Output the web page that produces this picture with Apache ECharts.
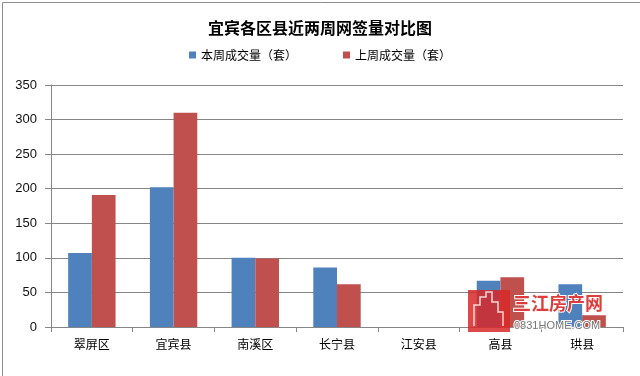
<!DOCTYPE html>
<html><head><meta charset="utf-8">
<script src="https://cdn.jsdelivr.net/npm/echarts@6/dist/echarts.min.js"></script>
<style>html,body{margin:0;padding:0;background:#fff}#c{width:640px;height:376px}</style>
</head><body><div id="c"></div>
<script>
var categories = ['翠屏区','宜宾县','南溪区','长宁县','江安县','高县','珙县'];
var thisWeek = [107, 202, 100, 86, 0, 67, 62];
var lastWeek = [191, 310, 99, 62, 0, 72, 17];
var seriesNames = ['本周成交量（套）','上周成交量（套）'];
var yTicks = [0, 50, 100, 150, 200, 250, 300, 350];

var chart = echarts.init(document.getElementById('c'));
var cjk = '"Noto Sans CJK SC", sans-serif';
chart.setOption({
  backgroundColor: '#fff',
  animation: false,
  title: {
    text: '宜宾各区县近两周网签量对比图', left: 'center', top: 15,
    textStyle: {fontFamily: cjk, fontSize: 16, fontWeight: 'bold', color: '#000'}
  },
  legend: {
    top: 44, left: 'center', itemWidth: 7, itemHeight: 7, itemGap: 46,
    icon: 'rect',
    textStyle: {fontFamily: cjk, fontSize: 12, color: '#000'},
    data: seriesNames
  },
  grid: {left: 51, right: 17, top: 85, bottom: 49},
  xAxis: {
    type: 'category', data: categories,
    axisLine: {lineStyle: {color: '#868686'}},
    axisTick: {show: true, length: 5, lineStyle: {color: '#868686'}},
    axisLabel: {fontFamily: cjk, fontSize: 12, color: '#000', margin: 11}
  },
  yAxis: {
    type: 'value', min: 0, max: 350, interval: 50,
    axisLine: {show: true, lineStyle: {color: '#868686'}},
    axisTick: {show: true, inside: false, length: 6, lineStyle: {color: '#868686'}},
    splitLine: {lineStyle: {color: '#868686'}},
    axisLabel: {fontFamily: '"Liberation Sans", sans-serif', fontSize: 13, color: '#111', margin: 14,
      formatter: function(v){ return yTicks.indexOf(v) >= 0 ? String(v) : ''; }}
  },
  series: [
    {name: seriesNames[0], type: 'bar', data: thisWeek, barGap: '0%', barCategoryGap: '42%',
     itemStyle: {color: '#4F81BD'}},
    {name: seriesNames[1], type: 'bar', data: lastWeek,
     itemStyle: {color: '#C0504D'}}
  ],
  graphic: [
    {type: 'rect', left: 0, top: 0, z: 100, silent: true,
     shape: {x: 0.5, y: 0.5, width: 639, height: 375},
     style: {fill: 'none', stroke: '#8c8c8c', lineWidth: 1}},
    {type: 'rect', z: 100, silent: true, shape: {x: 468, y: 290, width: 42, height: 42},
     style: {fill: 'rgba(215,40,40,0.85)'}},
    {type: 'polyline', z: 101, silent: true,
     shape: {points: [[474,326],[474,305],[480,305],[480,297],[486,297],[486,292],[492,292],[492,302],[498,302],[498,312],[503,312],[503,326]]},
     style: {fill: 'none', stroke: 'rgba(255,255,255,0.8)', lineWidth: 1.5}},
    {type: 'text', z: 101, silent: true, left: 512, top: 293,
     style: {text: '三江房产网', font: 'bold 18px "Noto Sans CJK SC"', fill: 'rgba(220,40,40,0.9)', stroke: '#fff', lineWidth: 2}},
    {type: 'text', z: 101, silent: true, left: 513, top: 319,
     style: {text: '0831HOME.COM', font: '11px "Liberation Sans Narrow", "Liberation Sans"', fill: '#777', stroke: '#fff', lineWidth: 2}}
  ]
});
</script></body></html>
